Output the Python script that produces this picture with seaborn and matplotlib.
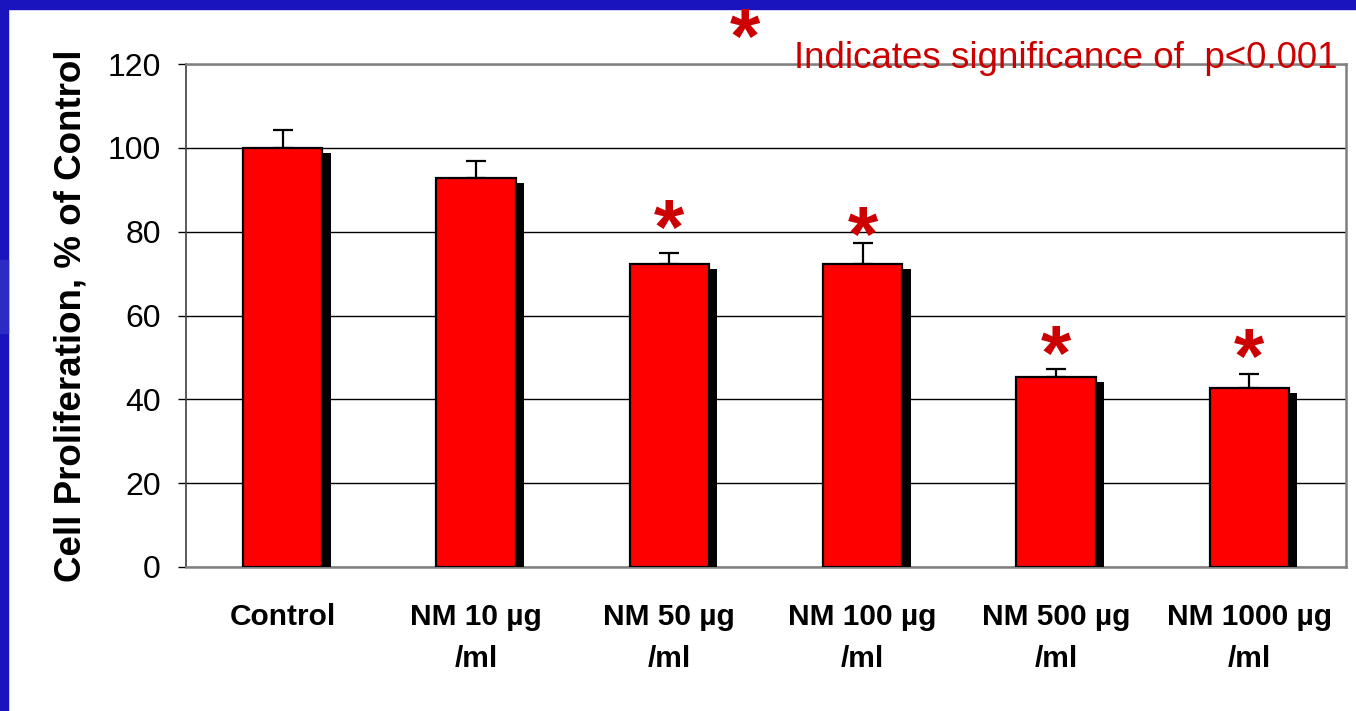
import matplotlib
matplotlib.use("Agg")
import matplotlib.pyplot as plt
import matplotlib.patheffects as pe
from matplotlib.patches import Rectangle
import seaborn as sns
import pandas as pd
import numpy as np

categories = ["Control", "NM 10 µg\n/ml", "NM 50 µg\n/ml", "NM 100 µg\n/ml",
              "NM 500 µg\n/ml", "NM 1000 µg\n/ml"]
values = [100.0, 92.8, 72.3, 72.3, 45.3, 42.7]
errors = [4.3, 4.1, 2.6, 5.0, 2.0, 3.4]
significant = [False, False, True, True, True, True]
star_y = [0, 0, 84.5, 82.8, 54.6, 53.7]
yticks = [0, 20, 40, 60, 80, 100, 120]
ylabel = "Cell Proliferation, % of Control"
note = "Indicates significance of  p<0.001"

sns.set_theme(style="white")
plt.rcParams['font.family'] = ['Liberation Sans', 'DejaVu Sans']

W, H = 1356, 711
fig = plt.figure(figsize=(W / 100, H / 100), dpi=100)
fig.patch.set_facecolor("white")

# slide border
border = "#1a14bf"
fig.patches.append(Rectangle((0, 1 - 9 / H), 1, 9 / H, transform=fig.transFigure,
                             color=border, zorder=0))
fig.patches.append(Rectangle((0, 0), 8 / W, 1, transform=fig.transFigure,
                             color=border, zorder=0))
fig.patches.append(Rectangle((0, 1 - 333 / H), 8 / W, 73 / H, transform=fig.transFigure,
                             color="#2c2cc4", zorder=0))

ax = fig.add_axes([186 / W, 1 - 567 / H, (1346 - 186) / W, (567 - 64) / H])

df = pd.DataFrame({"cat": categories, "val": values})
sns.barplot(data=df, x="cat", y="val", color="#ff0000", saturation=1,
            edgecolor="black", linewidth=1.6, width=0.41, ax=ax, zorder=3)

for bar in ax.patches:
    bar.set_path_effects([pe.SimplePatchShadow(offset=(6, -3.6), shadow_rgbFace="black",
                                               alpha=1.0), pe.Normal()])

x = np.arange(len(categories))
ax.errorbar(x, values, yerr=[np.zeros(len(values)), errors], fmt="none",
            ecolor="black", elinewidth=1.6, capsize=7.2, capthick=1.6, zorder=2)

STAR_FS = 56
STAR_DY = -15.0
for i, (sig, sy) in enumerate(zip(significant, star_y)):
    if sig:
        ax.annotate("*", xy=(i, sy), xytext=(0, STAR_DY), textcoords="offset points",
                    ha="center", va="center", fontsize=STAR_FS, fontweight="bold",
                    color="#cc0000", zorder=5, annotation_clip=False)

ax.set_xlim(-0.5, len(categories) - 0.5)
ax.set_ylim(0, 120)
ax.set_yticks(yticks)
ax.set_yticklabels([str(t) for t in yticks], fontsize=23, color="black")
ax.yaxis.grid(True, color="black", linewidth=1.0, zorder=0)
ax.set_axisbelow(True)

ax.set_xticks(x)
ax.set_xticklabels(categories, fontsize=21.5, fontweight="bold", color="black",
                   linespacing=1.65, va="top")
ax.set_xticks(np.arange(-0.5, len(categories), 1.0), minor=True)
ax.tick_params(axis="x", which="major", length=0, pad=26)
ax.tick_params(axis="x", which="minor", length=6, width=1, color="black", direction="out")
ax.tick_params(axis="y", which="major", length=6, width=1, color="black", left=True,
               direction="out", pad=12)

ax.set_xlabel("")
ax.set_ylabel(ylabel, fontsize=26.5, fontweight="bold", color="black", labelpad=14)

for s in ["top", "right", "bottom"]:
    ax.spines[s].set_visible(True)
    ax.spines[s].set_color("#808080")
    ax.spines[s].set_linewidth(1.8)
ax.spines["left"].set_visible(True)
ax.spines["left"].set_color("#404040")
ax.spines["left"].set_linewidth(1.2)

fig.text(745 / W, 1 - 22 / H, "*", ha="center", va="center", fontsize=STAR_FS,
         fontweight="bold", color="#cc0000",
         transform=fig.transFigure + matplotlib.transforms.ScaledTranslation(0, STAR_DY / 72, fig.dpi_scale_trans))
fig.text(1337 / W, 1 - 68 / H, note, ha="right", va="baseline", fontsize=26.5,
         color="#cc0000", zorder=10)

fig.savefig("out.png", dpi=100)
